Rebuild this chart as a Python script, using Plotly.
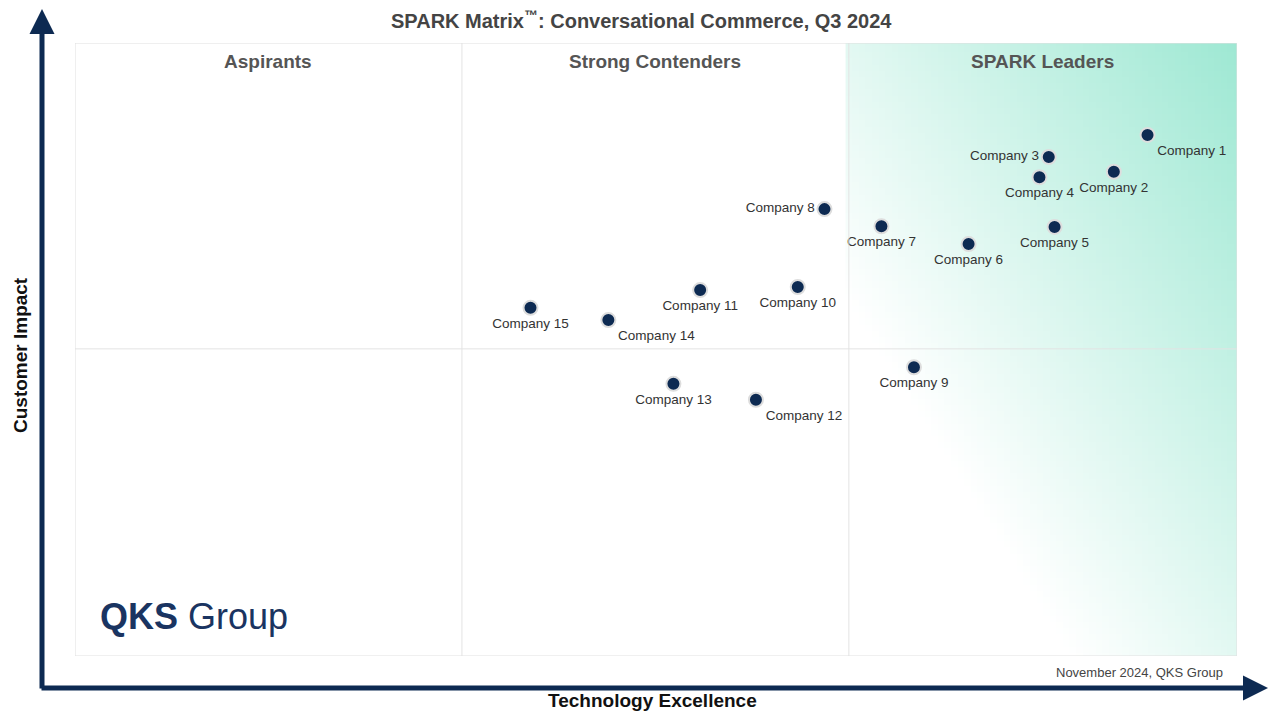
import plotly.graph_objects as go
import numpy as np

companies = [f"Company {i}" for i in range(1, 16)]
tech = [92.3, 89.4, 83.8, 83.0, 84.3, 76.9, 69.4, 64.5, 72.2, 62.2, 53.8, 58.6, 51.5, 45.9, 39.2]
impact = [85.0, 79.0, 81.4, 78.1, 70.0, 67.2, 70.1, 72.9, 47.1, 60.2, 59.7, 41.8, 44.4, 54.8, 56.8]
label_pos = ["bottom right", "bottom center", "middle left", "bottom center", "bottom center",
             "bottom center", "bottom center", "middle left", "bottom center", "bottom center",
             "bottom center", "bottom right", "bottom center", "bottom right", "bottom center"]
quadrants = ["Aspirants", "Strong Contenders", "SPARK Leaders"]

navy = "#0d2a52"
fig = go.Figure()

gx = np.linspace(66.6, 100, 60)
gy = np.linspace(0, 100, 100)
X, Y = np.meshgrid(gx, gy)
Z = np.clip(((X - 66.6) / 33.4) * 0.7 + (Y / 100) * 0.7 - 0.4, 0, 1)
fig.add_trace(go.Heatmap(x=gx, y=gy, z=Z, showscale=False, hoverinfo="skip",
                         colorscale=[[0, "#ffffff"], [1, "#9ee8d3"]], zmin=0, zmax=1))

fig.add_trace(go.Scatter(
    x=tech, y=impact, mode="markers+text", text=companies, textposition=label_pos,
    marker=dict(size=14, color=navy, line=dict(color="#dddddd", width=2)),
    textfont=dict(family="Arial, Liberation Sans", size=13.5, color="#333333"),
    hoverinfo="text", showlegend=False))

for xv in [33.3, 66.6]:
    fig.add_shape(type="line", x0=xv, x1=xv, y0=0, y1=100, line=dict(color="#e3e3e3", width=1))
fig.add_shape(type="line", x0=0, x1=100, y0=50.1, y1=50.1, line=dict(color="#e3e3e3", width=1))
fig.add_shape(type="rect", x0=0, x1=100, y0=0, y1=100, line=dict(color="#e0e0e0", width=1))

for i, q in enumerate(quadrants):
    fig.add_annotation(x=16.65 + 33.3 * i, y=97, text=f"<b>{q}</b>", showarrow=False,
                       font=dict(family="Arial, Liberation Sans", size=19, color="#555555"))

fig.add_annotation(x=2.0, y=6.5, text="<b>QKS</b> Group", showarrow=False, xanchor="left",
                   font=dict(family="Arial, Liberation Sans", size=36, color="#1a3461"))

fig.add_annotation(xref="paper", yref="paper", x=(1268 - 75) / 1162, y=(656 - 688) / 613,
                   ax=-1228, ay=0, showarrow=True, arrowhead=2, arrowsize=1, arrowwidth=5,
                   arrowcolor=navy, text="")
fig.add_annotation(xref="paper", yref="paper", x=(42 - 75) / 1162, y=(656 - 8) / 613,
                   ax=0, ay=682, showarrow=True, arrowhead=2, arrowsize=1, arrowwidth=5,
                   arrowcolor=navy, text="")

fig.add_annotation(xref="paper", yref="paper", x=(652 - 75) / 1162, y=(656 - 700) / 613,
                   xanchor="center", yanchor="middle",
                   text="<b>Technology Excellence</b>", showarrow=False,
                   font=dict(family="Arial, Liberation Sans", size=19, color="#111111"))
fig.add_annotation(xref="paper", yref="paper", x=(20 - 75) / 1162, y=(656 - 355) / 613,
                   xanchor="center", yanchor="middle",
                   text="<b>Customer Impact</b>", showarrow=False, textangle=-90,
                   font=dict(family="Arial, Liberation Sans", size=19, color="#111111"))
fig.add_annotation(xref="paper", yref="paper", x=(1225 - 75) / 1162, y=(656 - 672) / 613,
                   xanchor="right", yanchor="middle", text="November 2024, QKS Group", showarrow=False,
                   font=dict(family="Arial, Liberation Sans", size=13, color="#444444"))
fig.add_annotation(xref="paper", yref="paper", x=(641 - 75) / 1162, y=(656 - 20) / 613,
                   xanchor="center", yanchor="middle",
                   text="<b>SPARK Matrix<sup>™</sup>: Conversational Commerce, Q3 2024</b>",
                   showarrow=False,
                   font=dict(family="Arial, Liberation Sans", size=20, color="#444444"))

fig.update_xaxes(range=[0, 100], visible=False, showgrid=False)
fig.update_yaxes(range=[0, 100], visible=False, showgrid=False)
fig.update_layout(width=1264, height=704, margin=dict(l=67, r=35, t=35, b=56),
                  paper_bgcolor="white", plot_bgcolor="white")
fig.write_html("out.html")
